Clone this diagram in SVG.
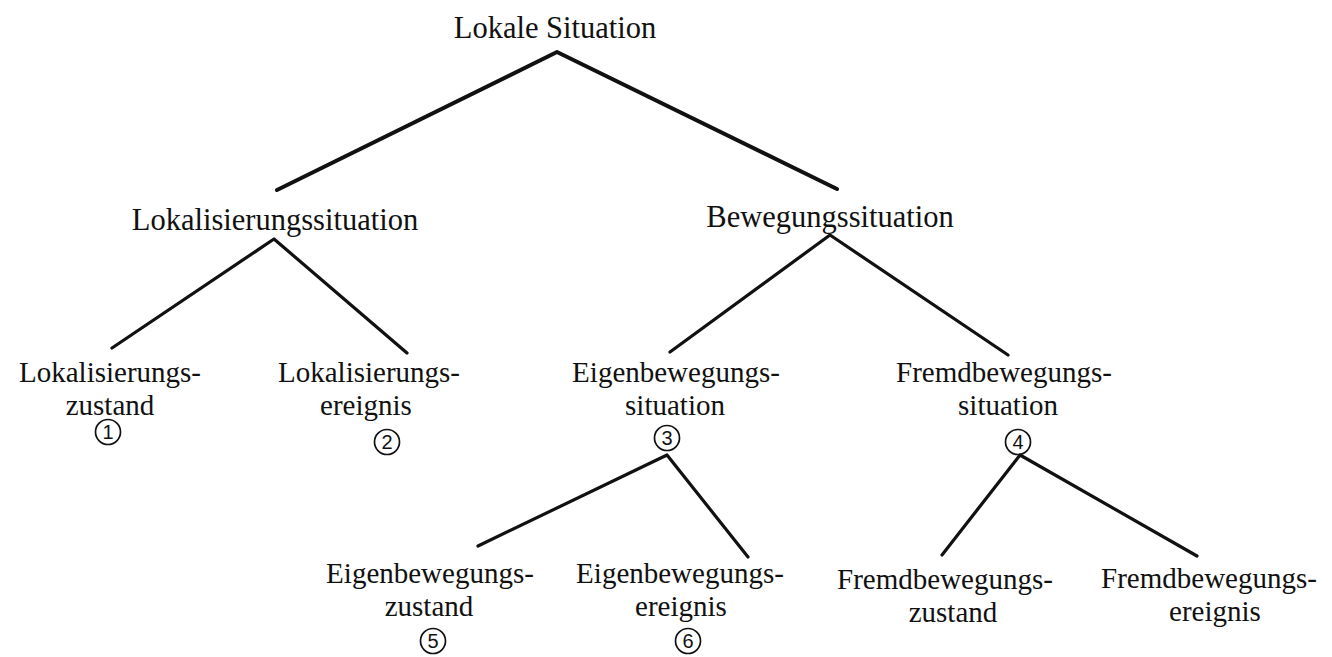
<svg xmlns="http://www.w3.org/2000/svg" width="1332" height="657" viewBox="0 0 1332 657">
<style>
text{font-family:"Liberation Serif","Times New Roman",serif;font-size:29px;fill:#111;text-anchor:middle}
.h{font-size:30.5px}
.n{font-family:"Liberation Sans",Arial,sans-serif;font-size:20px}
.c{fill:none;stroke:#111;stroke-width:1.7}
.e{fill:none;stroke:#111;stroke-width:3.2;stroke-linecap:round;stroke-linejoin:round}
.t{stroke-width:4}
</style>
<rect width="1332" height="657" fill="#fff"/>
<g id="connectors">
<polyline class="e t" points="277,190 557,52 837,189"/>
<polyline class="e" points="112,348 274,239 407,353"/>
<polyline class="e" points="670,352 830,235 1008,355"/>
<polyline class="e" points="478,546 667,455 748,557"/>
<polyline class="e" points="942,555 1020,455 1197,556"/>
</g>
<g id="root"><text class="h" x="555" y="38">Lokale Situation</text></g>
<g id="lokalisierungssituation"><text class="h" x="275" y="230">Lokalisierungssituation</text></g>
<g id="bewegungssituation"><text class="h" x="830" y="227">Bewegungssituation</text></g>
<g id="n1">
<text x="110" y="382">Lokalisierungs-</text>
<text x="110" y="414.5">zustand</text>
<circle class="c" cx="108" cy="432" r="12.5"/><text class="n" x="108" y="439">1</text>
</g>
<g id="n2">
<text x="369" y="382">Lokalisierungs-</text>
<text x="366" y="414.5">ereignis</text>
<circle class="c" cx="387" cy="442" r="12.5"/><text class="n" x="387" y="449">2</text>
</g>
<g id="n3">
<text x="676" y="382">Eigenbewegungs-</text>
<text x="675" y="414.5">situation</text>
<circle class="c" cx="667" cy="438" r="12.5"/><text class="n" x="667" y="445">3</text>
</g>
<g id="n4">
<text x="1004" y="382">Fremdbewegungs-</text>
<text x="1008" y="414.5">situation</text>
<circle class="c" cx="1018" cy="442" r="12.5"/><text class="n" x="1018" y="449">4</text>
</g>
<g id="n5">
<text x="430" y="583">Eigenbewegungs-</text>
<text x="429" y="615.5">zustand</text>
<circle class="c" cx="433" cy="641" r="12.5"/><text class="n" x="433" y="648">5</text>
</g>
<g id="n6">
<text x="680" y="583">Eigenbewegungs-</text>
<text x="681" y="615.5">ereignis</text>
<circle class="c" cx="688" cy="641" r="12.5"/><text class="n" x="688" y="648">6</text>
</g>
<g id="n7">
<text x="945" y="589">Fremdbewegungs-</text>
<text x="953" y="621.5">zustand</text>
</g>
<g id="n8">
<text x="1209" y="588">Fremdbewegungs-</text>
<text x="1215" y="620.5">ereignis</text>
</g>
</svg>
